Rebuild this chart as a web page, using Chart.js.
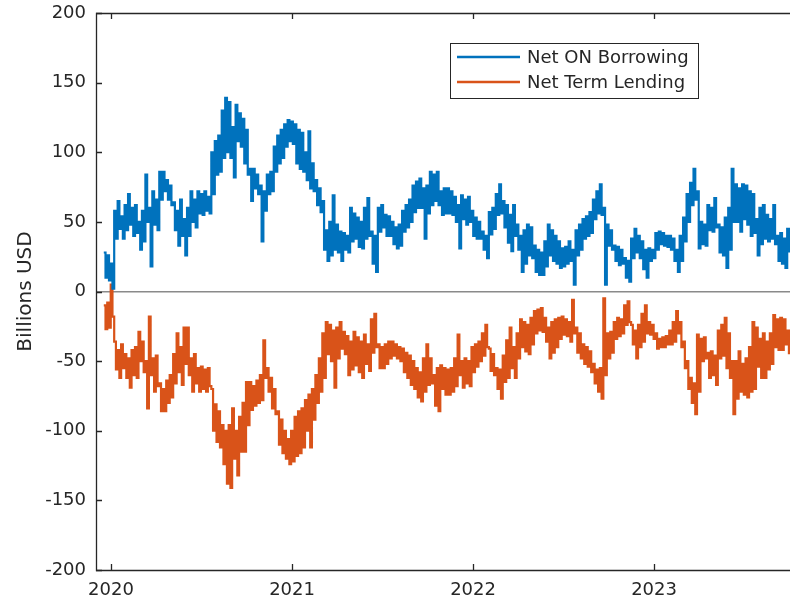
<!DOCTYPE html>
<html>
<head>
<meta charset="utf-8">
<script src="https://cdn.jsdelivr.net/npm/chart.js@4.4.1/dist/chart.umd.min.js"></script>
<style>
  html, body { margin: 0; padding: 0; background: #fff; }
  #wrap { width: 790px; height: 605px; }
</style>
</head>
<body>
<div id="wrap"><canvas id="repoChart"></canvas></div>
<script>
/* ================= DATA ================= */
// one entry per week from mid-Dec 2019, top and bottom of the daily swing
const START_YEAR = 2019.96;
const WEEK = 7 / 365.25;

const onHigh = [
  28, 26, 20, 58, 65, 54, 62, 70, 60, 62,
  50, 58, 84, 60, 72, 66, 86, 86, 80, 76,
  64, 58, 66, 52, 60, 72, 66, 72, 70, 72,
  68, 100, 108, 112, 130, 139, 136, 118, 134, 128,
  124, 116, 88, 88, 84, 76, 72, 84, 86, 104,
  112, 116, 120, 123, 122, 120, 116, 114, 100, 115,
  92, 80, 74, 65, 44, 50, 69, 48, 43, 42,
  40, 60, 56, 53, 50, 60, 67, 43, 40, 60,
  62, 55, 54, 50, 46, 48, 58, 62, 66, 76,
  79, 81, 74, 76, 86, 84, 86, 72, 74, 74,
  72, 68, 62, 69, 66, 68, 58, 53, 50, 43,
  40, 57, 60, 70, 77, 65, 62, 55, 62, 48,
  40, 44, 48, 46, 33, 30, 28, 36, 48, 44,
  40, 36, 31, 32, 36, 30, 44, 48, 52, 54,
  57, 66, 72, 77, 60, 48, 44, 33, 32, 30,
  24, 22, 38, 45, 40, 36, 30, 31, 30, 42,
  43, 42, 40, 40, 38, 30, 40, 53, 70, 78,
  88, 72, 50, 48, 62, 60, 67, 48, 46, 53,
  60, 88, 77, 74, 77, 76, 72, 70, 52, 60,
  62, 55, 52, 62, 40, 42, 38, 45
];
const onLow = [
  10, 8, 2, 38, 45, 38, 44, 48, 40, 42,
  30, 36, 50, 18, 48, 44, 66, 72, 66, 62,
  44, 33, 40, 26, 40, 50, 46, 56, 55, 58,
  56, 70, 84, 86, 96, 100, 96, 82, 108, 104,
  92, 84, 65, 74, 70, 36, 58, 70, 72, 86,
  92, 96, 104, 108, 106, 92, 88, 86, 80, 74,
  72, 62, 57, 30, 22, 26, 30, 28, 22, 30,
  28, 36, 38, 32, 31, 38, 40, 20, 14, 43,
  46, 40, 40, 34, 31, 33, 43, 46, 50, 57,
  60, 60, 38, 56, 62, 65, 62, 55, 56, 56,
  55, 50, 31, 52, 48, 50, 40, 38, 38, 30,
  24, 41, 45, 55, 56, 46, 35, 29, 40, 30,
  14, 20, 26, 24, 14, 12, 12, 18, 26, 22,
  20, 17, 18, 20, 22, 5, 26, 30, 38, 40,
  42, 52, 56, 55, 5, 33, 30, 22, 19, 20,
  10, 7, 24, 28, 24, 16, 10, 22, 24, 30,
  34, 33, 32, 30, 22, 14, 22, 36, 50, 62,
  66, 31, 34, 33, 44, 43, 46, 28, 26, 17,
  30, 50, 50, 43, 52, 48, 40, 42, 26, 34,
  38, 36, 38, 34, 22, 20, 17, 28
];

const termHigh = [
  -10, -8, 5, -36, -42, -38, -45, -48, -42, -40,
  -29, -36, -50, -18, -48, -46, -66, -70, -64, -60,
  -45, -30, -40, -26, -26, -48, -45, -55, -54, -56,
  -55, -70, -81, -86, -96, -100, -96, -84, -100, -90,
  -80, -65, -65, -68, -64, -60, -35, -55, -62, -70,
  -86, -92, -100, -106, -100, -90, -86, -84, -78, -74,
  -70, -60, -48, -30, -22, -24, -28, -26, -22, -29,
  -32, -36, -29, -33, -36, -31, -38, -20, -16, -38,
  -40, -38, -36, -36, -38, -40, -41, -44, -46, -50,
  -55, -58, -48, -38, -48, -60, -55, -53, -55, -56,
  -55, -48, -31, -50, -48, -50, -40, -38, -36, -30,
  -24, -41, -45, -55, -56, -46, -35, -26, -40, -30,
  -20, -22, -24, -19, -14, -13, -12, -19, -26, -22,
  -20, -19, -18, -20, -22, -6, -26, -30, -38, -40,
  -43, -52, -56, -55, -5, -30, -29, -22, -19, -20,
  -10, -7, -24, -28, -24, -16, -10, -22, -24, -30,
  -34, -33, -32, -28, -22, -14, -22, -36, -50, -62,
  -66, -31, -34, -33, -44, -43, -46, -28, -24, -19,
  -30, -50, -50, -43, -52, -48, -40, -22, -26, -34,
  -30, -36, -30, -17, -20, -19, -20, -28
];
const termLow = [
  -27, -26, -18, -56, -62, -55, -62, -69, -60, -62,
  -50, -58, -84, -60, -72, -68, -86, -86, -80, -76,
  -66, -58, -67, -52, -60, -72, -66, -72, -70, -72,
  -68, -100, -108, -112, -124, -138, -141, -120, -132, -115,
  -115, -96, -85, -82, -80, -78, -62, -72, -84, -88,
  -110, -116, -120, -124, -122, -118, -116, -112, -100, -112,
  -92, -80, -72, -62, -45, -50, -69, -48, -41, -45,
  -60, -56, -53, -58, -62, -52, -57, -44, -40, -55,
  -55, -52, -48, -46, -48, -50, -58, -62, -67, -70,
  -76, -79, -72, -67, -66, -82, -86, -70, -74, -74,
  -72, -68, -60, -69, -66, -68, -58, -54, -50, -46,
  -40, -57, -60, -70, -77, -65, -62, -55, -62, -48,
  -40, -43, -45, -38, -30, -28, -29, -36, -48, -44,
  -40, -34, -31, -32, -36, -30, -44, -48, -52, -54,
  -58, -66, -72, -77, -60, -48, -44, -34, -32, -30,
  -24, -22, -38, -48, -40, -36, -30, -31, -34, -41,
  -40, -40, -38, -38, -36, -30, -40, -55, -70, -80,
  -88, -72, -50, -48, -62, -60, -67, -48, -46, -55,
  -62, -88, -77, -72, -74, -76, -72, -70, -54, -62,
  -62, -56, -52, -40, -42, -42, -38, -45
];

const yearTicks = [2020, 2021, 2022, 2023];
const yTicks = [-200, -150, -100, -50, 0, 50, 100, 150, 200];

/* ================= STYLE ================= */
const BLUE = "#0072BD";
const ORANGE = "#D95319";
const AXIS = "#262626";
const FONT = "'DejaVu Sans', sans-serif";

// each week drawn as a swing from its top reading down to its bottom one
function weeklySwing(high, low) {
  const pts = [];
  high.forEach((h, i) => {
    const t = START_YEAR + i * WEEK;
    pts.push({ x: t, y: h });
    pts.push({ x: t + WEEK / 2, y: low[i] });
  });
  return pts;
}

/* ================= BOX + LEGEND PLUGIN ================= */
const matlabBox = {
  id: "matlabBox",
  afterDraw(chart) {
    const { ctx, chartArea: a, scales } = chart;
    const xs = scales.x, ys = scales.y;
    ctx.save();
    ctx.strokeStyle = AXIS;
    ctx.lineWidth = 1.3;

    // axes box (right side runs off the picture)
    ctx.beginPath();
    ctx.moveTo(a.right + 2, a.top + 0.5);
    ctx.lineTo(a.left + 0.5, a.top + 0.5);
    ctx.lineTo(a.left + 0.5, a.bottom + 0.5);
    ctx.lineTo(a.right + 2, a.bottom + 0.5);
    ctx.stroke();

    // inward tick marks
    ctx.beginPath();
    ys.ticks.forEach(t => {
      const py = Math.round(ys.getPixelForValue(t.value)) + 0.5;
      ctx.moveTo(a.left, py);
      ctx.lineTo(a.left + 6, py);
    });
    xs.ticks.forEach(t => {
      const px = Math.round(xs.getPixelForValue(t.value)) + 0.5;
      ctx.moveTo(px, a.bottom);
      ctx.lineTo(px, a.bottom - 6);
      ctx.moveTo(px, a.top);
      ctx.lineTo(px, a.top + 6);
    });
    ctx.stroke();

    // legend
    const lx = 450.5, ly = 43.5, lw = 248, lh = 55;
    ctx.fillStyle = "#fff";
    ctx.fillRect(lx, ly, lw, lh);
    ctx.lineWidth = 1;
    ctx.strokeRect(lx, ly, lw, lh);

    ctx.font = "18px " + FONT;
    ctx.textBaseline = "middle";
    chart.data.datasets.forEach((ds, i) => {
      const yy = 57 + i * 25;
      ctx.strokeStyle = ds.borderColor;
      ctx.lineWidth = 2.5;
      ctx.beginPath();
      ctx.moveTo(457, yy);
      ctx.lineTo(520, yy);
      ctx.stroke();
      ctx.fillStyle = AXIS;
      ctx.fillText(ds.label, 527, yy + 1);
    });
    ctx.restore();
  }
};

/* ================= CHART ================= */
const ctx = document.getElementById("repoChart");

new Chart(ctx, {
  type: "line",
  data: {
    datasets: [
      {
        label: "Net ON Borrowing",
        data: weeklySwing(onHigh, onLow),
        borderColor: BLUE,
        borderWidth: 2.2,
        pointRadius: 0,
        stepped: true
      },
      {
        label: "Net Term Lending",
        data: weeklySwing(termHigh, termLow),
        borderColor: ORANGE,
        borderWidth: 2.2,
        pointRadius: 0,
        stepped: true
      }
    ]
  },
  options: {
    responsive: true,
    maintainAspectRatio: false,
    animation: false,
    layout: { padding: { top: 13, right: 0, left: 0, bottom: 0 } },
    plugins: {
      legend: { display: false },
      tooltip: { enabled: false }
    },
    scales: {
      x: {
        type: "linear",
        min: 2019.917,
        max: 2023.751,
        afterBuildTicks: (scale) => { scale.ticks = yearTicks.map(v => ({ value: v })); },
        afterFit: (scale) => { scale.height = 35; scale.paddingLeft = 0; scale.paddingRight = 0; },
        grid: { display: false, drawTicks: false },
        border: { display: false },
        ticks: {
          color: AXIS,
          font: { family: FONT, size: 18 },
          padding: 10,
          maxRotation: 0,
          callback: (v) => String(v)
        }
      },
      y: {
        min: -200,
        max: 200,
        afterBuildTicks: (scale) => { scale.ticks = yTicks.map(v => ({ value: v })); },
        afterFit: (scale) => { scale.width = 96; scale.paddingTop = 0; scale.paddingBottom = 0; },
        grid: {
          drawTicks: false,
          lineWidth: 1.5,
          color: (c) => (c.tick && c.tick.value === 0 ? "#8a8a8a" : "rgba(0,0,0,0)")
        },
        border: { display: false },
        title: {
          display: true,
          text: "Billions USD",
          color: AXIS,
          font: { family: FONT, size: 20 },
          padding: { top: 14, bottom: 0 }
        },
        ticks: {
          color: AXIS,
          font: { family: FONT, size: 18 },
          padding: 10
        }
      }
    }
  },
  plugins: [matlabBox]
});
</script>
</body>
</html>
